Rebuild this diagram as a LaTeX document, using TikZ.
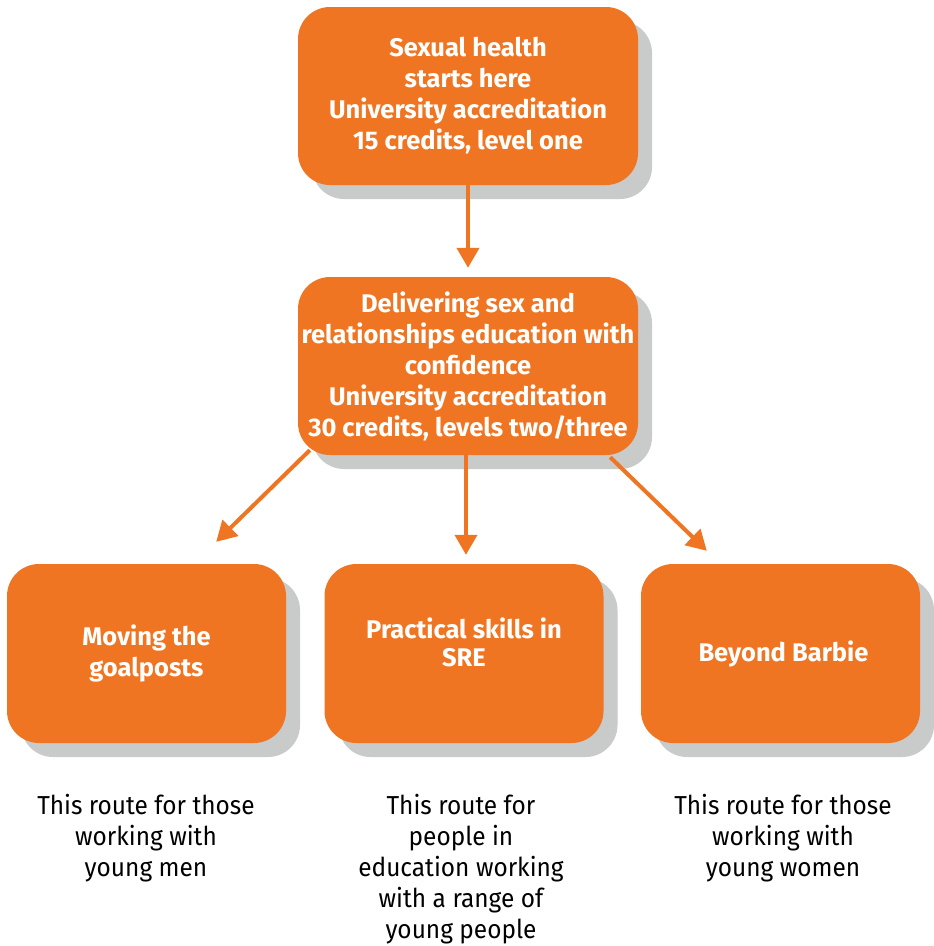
\documentclass[tikz,border=0pt]{standalone}
\usepackage{fontspec}
\setmainfont{Fira Sans}[FakeStretch=0.94]
\newfontfamily\boxfont{Fira Sans}
\usetikzlibrary{arrows.meta,shadows,calc}
\definecolor{boxorange}{HTML}{F07522}
\definecolor{shadowgrey}{HTML}{C9CACA}
\begin{document}
\begin{tikzpicture}[x=1pt,y=-1pt,
  box/.style={fill=boxorange, draw=none, rounded corners=32pt, text=white,
    font=\boxfont\fontsize{25.5}{31}\selectfont\bfseries, align=center, inner sep=0pt,
    drop shadow={shadow xshift=14pt, shadow yshift=-14pt, fill=shadowgrey, opacity=1}},
  topbox/.style={box, minimum width=340pt, minimum height=178pt},
  lowbox/.style={box, minimum width=279pt, minimum height=179pt},
  note/.style={font=\fontsize{26}{31}\selectfont, align=center, anchor=north, inner sep=0pt},
  link/.style={draw=boxorange, line width=4pt, -{Triangle[width=22pt,length=20pt]}}]
\useasboundingbox (0,0) rectangle (934,946);
\node[topbox] (top) at (468,96) {Sexual health\\starts here\\University accreditation\\15 credits, level one};
\node[topbox] (mid) at (468,366) {Delivering sex and\\relationships education with\\confidence\\University accreditation\\30 credits, levels two/three};
\node[lowbox] (bl) at (146.5,653.5) {Moving the\\goalposts};
\node[lowbox] (bm) at (464,653.5) {\raisebox{1pt}[0pt][0pt]{\begin{tabular}{@{}c@{}}Practical skills in\\[-3pt]SRE\end{tabular}}};
\node[lowbox] (br) at (780.5,653.5) {\hspace*{6pt}Beyond Barbie};
\node[note] (nl) at (146,794) {This route for those\\working with\\young men};
\node[note] (nm) at (461,794) {This route for\\people in\\education working\\with a range of\\young people};
\node[note] (nr) at (783,794) {This route for those\\working with\\young women};
\coordinate (s1) at ($(mid.south west)+(12,-5)$);
\coordinate (t1) at ($(bl.north east)+(-70,-22)$);
\coordinate (s2) at ($(mid.south)+(-2,0)$);
\coordinate (t2) at (s2 |- bm.north);
\coordinate (s3) at ($(mid.south east)+(-28,2)$);
\coordinate (t3) at ($(br.north west)+(66,-13)$);
\draw[link] (top.south) -- ($(mid.north)+(0,-9)$);
\draw[link] (s1) -- (t1);
\draw[link, shorten >=9pt] (s2) -- (t2);
\draw[link] (s3) -- (t3);
\end{tikzpicture}
\end{document}
